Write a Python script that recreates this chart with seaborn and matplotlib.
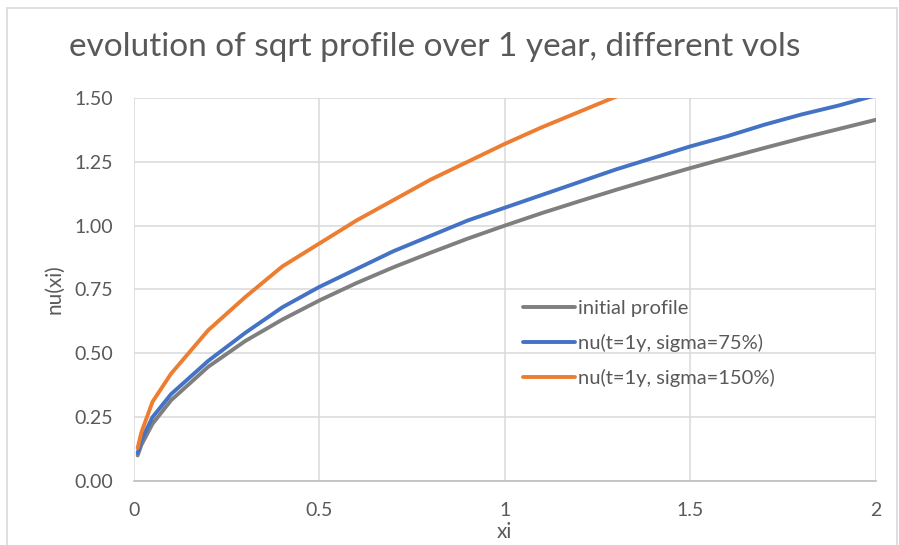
import numpy as np
import pandas as pd
import matplotlib
matplotlib.use("Agg")
import matplotlib.pyplot as plt
import seaborn as sns
from matplotlib.patches import Rectangle

# values
xi = [0.01, 0.02, 0.05, 0.1, 0.2, 0.3, 0.4, 0.5, 0.6, 0.7, 0.8, 0.9, 1.0,
      1.1, 1.2, 1.3, 1.4, 1.5, 1.6, 1.7, 1.8, 1.9, 2.0]
initial_profile = [0.10, 0.141, 0.224, 0.316, 0.447, 0.548, 0.632, 0.707, 0.775, 0.837, 0.894, 0.949, 1.0,
                   1.049, 1.095, 1.140, 1.183, 1.225, 1.265, 1.304, 1.342, 1.378, 1.414]
nu_sigma75 = [0.11, 0.16, 0.25, 0.34, 0.47, 0.58, 0.68, 0.76, 0.83, 0.90, 0.96, 1.02, 1.07,
              1.12, 1.17, 1.22, 1.265, 1.31, 1.35, 1.395, 1.435, 1.47, 1.51]
nu_sigma150 = [0.13, 0.19, 0.31, 0.42, 0.59, 0.72, 0.84, 0.93, 1.02, 1.10, 1.18, 1.25, 1.32,
               1.385, 1.445, 1.505, 1.565, 1.62, 1.675, 1.725, 1.775, 1.825, 1.87]
series_names = ["initial profile", "nu(t=1y, sigma=75%)", "nu(t=1y, sigma=150%)"]
colors = ["#7f7f7f", "#4472c4", "#ed7d31"]
x_ticks = [0, 0.5, 1, 1.5, 2]
x_tick_labels = ["0", "0.5", "1", "1.5", "2"]
y_ticks = [0, 0.25, 0.5, 0.75, 1.0, 1.25, 1.5]

df = pd.DataFrame({
    "xi": xi * 3,
    "nu": initial_profile + nu_sigma75 + nu_sigma150,
    "series": [series_names[0]] * len(xi) + [series_names[1]] * len(xi) + [series_names[2]] * len(xi),
})

sns.set_style("white")
plt.rcParams["font.family"] = ["Lato", "DejaVu Sans"]
txt = "#595959"
grid = "#d9d9d9"

fig = plt.figure(figsize=(8.99, 5.45), dpi=100)
ax = fig.add_axes([0.149, 0.1174, 0.825, 0.703])

sns.lineplot(data=df, x="xi", y="nu", hue="series", hue_order=series_names,
             palette=colors, linewidth=2.8, ax=ax, legend=True, clip_on=True)

ax.set_xlim(0, 2)
ax.set_ylim(0, 1.5)
ax.set_xticks(x_ticks)
ax.set_xticklabels(x_tick_labels)
ax.set_yticks(y_ticks)
ax.set_yticklabels(["%.2f" % v for v in y_ticks])
ax.grid(True, color=grid, linewidth=1.1)
ax.set_axisbelow(True)
for s in ["top", "right", "left"]:
    ax.spines[s].set_visible(False)
ax.spines["bottom"].set_color("#bfbfbf")
ax.spines["bottom"].set_linewidth(1.2)
ax.tick_params(axis="both", length=0, labelsize=14, colors=txt)
ax.tick_params(axis="y", pad=15)
ax.tick_params(axis="x", pad=15)

ax.set_xlabel("xi", fontsize=15, color=txt, labelpad=2)
ax.set_ylabel("nu(xi)", fontsize=15, color=txt, labelpad=7)

leg = ax.legend(loc="upper left", bbox_to_anchor=(0.5, 0.52), frameon=False,
                fontsize=14.5, handlelength=2.6, handletextpad=0.15, labelspacing=0.85,
                labelcolor=txt)

fig.text(0.483, 0.913, "evolution of sqrt profile over 1 year, different vols",
         ha="center", va="center", fontsize=24, color=txt)

fig.patches.append(Rectangle((0.008, -0.05), 0.99, 1.035, transform=fig.transFigure,
                             fill=False, edgecolor="#d9d9d9", linewidth=1.2))

fig.savefig("out.png", dpi=100)
